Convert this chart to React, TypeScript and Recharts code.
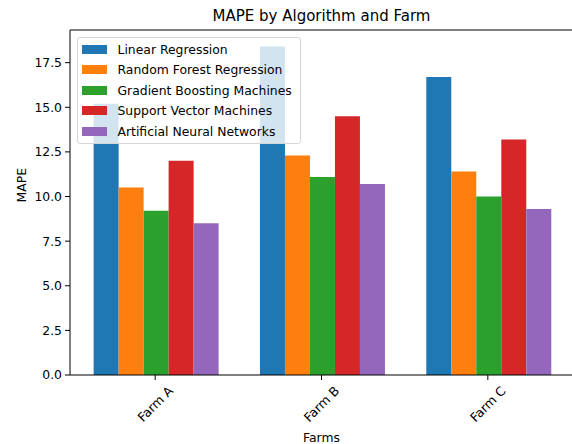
import React from "react"
import { BarChart, Bar, XAxis, YAxis, ReferenceLine } from "recharts"

const farms = ["Farm A", "Farm B", "Farm C"]
const algorithms = [
  "Linear Regression",
  "Random Forest Regression",
  "Gradient Boosting Machines",
  "Support Vector Machines",
  "Artificial Neural Networks",
]
const linearRegression = [15.2, 18.4, 16.7]
const randomForest = [10.5, 12.3, 11.4]
const gradientBoosting = [9.2, 11.1, 10.0]
const supportVector = [12.0, 14.5, 13.2]
const neuralNetworks = [8.5, 10.7, 9.3]
const yTicks = [0, 2.5, 5, 7.5, 10, 12.5, 15, 17.5]
const yMax = 19.33

const colors = ["#1f77b4", "#ff7f0e", "#2ca02c", "#d62728", "#9467bd"]
const keys = ["lr", "rf", "gb", "svm", "ann"]
const series = [linearRegression, randomForest, gradientBoosting, supportVector, neuralNetworks]

const data = farms.map((farm, i) => {
  const row: Record<string, string | number> = { farm }
  keys.forEach((k, j) => {
    row[k] = series[j][i]
  })
  return row
})

const font = "'DejaVu Sans', sans-serif"

function FarmTick(props: any) {
  const { x, y, payload } = props
  const cy = y + 22
  return (
    <text
      x={x}
      y={cy}
      textAnchor="middle"
      dominantBaseline="central"
      fontSize={12.6}
      fontFamily={font}
      fill="#000"
      transform={`rotate(-45, ${x}, ${cy})`}
    >
      {payload.value}
    </text>
  )
}

export default function App() {
  return (
    <div style={{ position: "absolute", top: 0, left: 0, width: 572, height: 444, overflow: "hidden", background: "#fff" }}>
      <div
        style={{
          position: "absolute",
          left: 0,
          width: 643,
          top: 7,
          textAlign: "center",
          fontFamily: font,
          fontSize: 15,
          color: "#000",
        }}
      >
        MAPE by Algorithm and Farm
      </div>
      <BarChart
        width={580}
        height={444}
        data={data}
        margin={{ top: 30, right: 7, left: 10, bottom: 9 }}
        barCategoryGap="13%"
        barGap={0}
      >
        <XAxis
          dataKey="farm"
          height={60}
          padding={{ left: 2, right: 2 }}
          axisLine={{ stroke: "#000" }}
          tickLine={{ stroke: "#000" }}
          tickSize={5}
          tick={<FarmTick />}
          interval={0}
          label={{ value: "Farms", position: "insideBottom", offset: -7, fill: "#000", fontSize: 12.4, fontFamily: font }}
        />
        <YAxis
          width={60}
          domain={[0, yMax]}
          ticks={yTicks}
          allowDataOverflow
          axisLine={{ stroke: "#000" }}
          tickLine={{ stroke: "#000" }}
          tickSize={5}
          tickMargin={3}
          tickFormatter={(v: number) => v.toFixed(1)}
          tick={{ fill: "#000", fontSize: 12.4, fontFamily: font }}
          label={{ value: "MAPE", angle: -90, position: "insideLeft", offset: 12, fill: "#000", fontSize: 12.4, fontFamily: font }}
        />
        <ReferenceLine y={yMax} stroke="#000" />
        {keys.map((k, j) => (
          <Bar key={k} dataKey={k} name={algorithms[j]} fill={colors[j]} isAnimationActive={false} />
        ))}
      </BarChart>
      <div
        style={{
          position: "absolute",
          left: 77,
          top: 37,
          width: 222,
          padding: "1px 0",
          background: "rgba(255,255,255,0.8)",
          border: "1px solid #d6d6d6",
          borderRadius: 3,
          fontFamily: font,
          fontSize: 12.4,
          color: "#000",
        }}
      >
        {algorithms.map((name, j) => (
          <div key={name} style={{ display: "flex", alignItems: "center", height: 20.5 }}>
            <span style={{ display: "inline-block", width: 24.5, height: 8.7, marginLeft: 4, marginRight: 11, background: colors[j] }} />
            <span style={{ whiteSpace: "nowrap" }}>{name}</span>
          </div>
        ))}
      </div>
    </div>
  )
}
